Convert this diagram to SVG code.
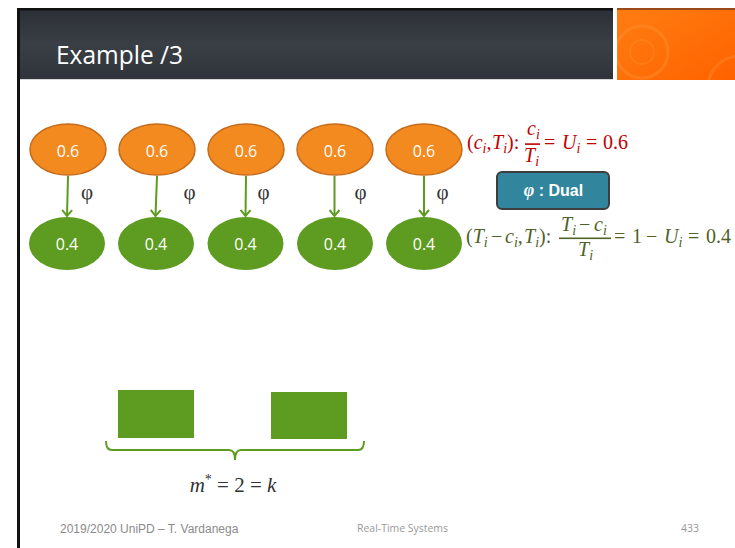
<svg xmlns="http://www.w3.org/2000/svg" width="735" height="548" viewBox="0 0 735 548">
<defs>
<linearGradient id="hdr" x1="0" y1="0" x2="0" y2="1">
<stop offset="0" stop-color="#2c3036"/>
<stop offset="0.5" stop-color="#3a3f46"/>
<stop offset="1" stop-color="#30343a"/>
</linearGradient>
<linearGradient id="org" x1="0" y1="0" x2="1" y2="1">
<stop offset="0" stop-color="#ff7d12"/>
<stop offset="1" stop-color="#ff6200"/>
</linearGradient>
<clipPath id="oclip"><rect x="617" y="10" width="118" height="70"/></clipPath>
<marker id="arr" viewBox="0 0 12 12" refX="11" refY="6" markerWidth="12" markerHeight="12" markerUnits="userSpaceOnUse" orient="auto">
<path d="M5,1 L11,6 L5,11" fill="none" stroke="#5e9b21" stroke-width="2"/>
</marker>
<style>
.top{fill:#f28a20;stroke:#c46b1c;stroke-width:1.5}
.bot{fill:#5e9b21}
.lbl{font-family:"Open Sans","DejaVu Sans",sans-serif;font-size:16px;fill:#ffffff;text-anchor:middle}
.phi{font-family:"Liberation Serif","DejaVu Serif",serif;font-size:21px;fill:#333333;text-anchor:middle}
.con{stroke:#5e9b21;stroke-width:2;fill:none}
.m{font-family:"Liberation Serif","DejaVu Serif",serif;font-size:20px}
.red{fill:#c00000}
.grn{fill:#4f6228}
.it{font-style:italic}
.sub{font-size:14px;font-style:italic}
.foot{font-family:"Liberation Sans",Arial,sans-serif;font-size:12px;fill:#8a8a8a}
.foot2{font-family:"Open Sans","DejaVu Sans",sans-serif;font-size:10.5px;fill:#999999}
</style>
</defs>
<rect width="735" height="548" fill="#ffffff"/>

<!-- header -->
<g id="header">
<rect x="20" y="10" width="593" height="69" fill="url(#hdr)"/>
<rect x="17" y="8" width="596" height="2.5" fill="#111111"/>
<rect x="617" y="8" width="118" height="2" fill="#9a4a18"/>
<rect x="617" y="10" width="118" height="70" fill="url(#org)"/>
<g clip-path="url(#oclip)" fill="none" stroke="#ff9a3a">
<circle cx="642" cy="52" r="26" stroke-opacity="0.35" stroke-width="3"/>
<circle cx="642" cy="52" r="12" stroke-opacity="0.25" stroke-width="2"/>
<circle cx="740" cy="88" r="32" stroke-opacity="0.3" stroke-width="3"/>
</g>
<rect x="20" y="79" width="593" height="1" fill="#d8d8d8"/>
<text x="56" y="64" font-family="'Open Sans','DejaVu Sans',sans-serif" font-size="26" fill="#ffffff" textLength="127" lengthAdjust="spacingAndGlyphs">Example /3</text>
</g>
<rect x="17" y="8" width="3" height="540" fill="#111111"/>

<!-- connectors -->
<g id="connectors">
<line class="con" x1="68" y1="176" x2="67" y2="216" marker-end="url(#arr)"/>
<line class="con" x1="157" y1="176" x2="155.5" y2="216" marker-end="url(#arr)"/>
<line class="con" x1="246" y1="176" x2="245.5" y2="216" marker-end="url(#arr)"/>
<line class="con" x1="334.5" y1="176" x2="334.5" y2="216" marker-end="url(#arr)"/>
<line class="con" x1="424" y1="176" x2="424" y2="216" marker-end="url(#arr)"/>
<text class="phi" x="87" y="199">φ</text>
<text class="phi" x="189.5" y="199">φ</text>
<text class="phi" x="263.5" y="199">φ</text>
<text class="phi" x="360.5" y="199">φ</text>
<text class="phi" x="442.5" y="199">φ</text>
</g>

<!-- top nodes -->
<g id="t1"><ellipse class="top" cx="68" cy="149.5" rx="38" ry="25.5"/><text class="lbl" x="68" y="157">0.6</text></g>
<g id="t2"><ellipse class="top" cx="157" cy="149.5" rx="38" ry="25.5"/><text class="lbl" x="157" y="157">0.6</text></g>
<g id="t3"><ellipse class="top" cx="246" cy="149.5" rx="38" ry="25.5"/><text class="lbl" x="246" y="157">0.6</text></g>
<g id="t4"><ellipse class="top" cx="335" cy="149.5" rx="38" ry="25.5"/><text class="lbl" x="335" y="157">0.6</text></g>
<g id="t5"><ellipse class="top" cx="424" cy="149.5" rx="38" ry="25.5"/><text class="lbl" x="424" y="157">0.6</text></g>

<!-- bottom nodes -->
<g id="b1"><ellipse class="bot" cx="67" cy="243.5" rx="38" ry="26.5"/><text class="lbl" x="67" y="250">0.4</text></g>
<g id="b2"><ellipse class="bot" cx="156" cy="243.5" rx="38" ry="26.5"/><text class="lbl" x="156" y="250">0.4</text></g>
<g id="b3"><ellipse class="bot" cx="245.5" cy="243.5" rx="38" ry="26.5"/><text class="lbl" x="245.5" y="250">0.4</text></g>
<g id="b4"><ellipse class="bot" cx="335" cy="243.5" rx="38" ry="26.5"/><text class="lbl" x="335" y="250">0.4</text></g>
<g id="b5"><ellipse class="bot" cx="424" cy="243.5" rx="38" ry="26.5"/><text class="lbl" x="424" y="250">0.4</text></g>

<!-- red formula -->
<g id="formula-top" class="m red">
<text x="467" y="149">(<tspan class="it">c</tspan><tspan class="sub" dy="4">i</tspan><tspan dy="-4">,</tspan><tspan x="492" class="it">T</tspan><tspan class="sub" dy="4">i</tspan><tspan dy="-4">):</tspan></text>
<text x="527" y="135"><tspan class="it">c</tspan><tspan class="sub" dy="4">i</tspan></text>
<rect x="525" y="143.3" width="15" height="1.6" fill="#c00000"/>
<text x="524" y="162"><tspan class="it">T</tspan><tspan class="sub" dy="4">i</tspan></text>
<text x="544" y="149">=<tspan x="562" class="it">U</tspan><tspan class="sub" dy="4">i</tspan><tspan x="586" dy="-4">=</tspan><tspan x="603">0.6</tspan></text>
</g>

<!-- dual box -->
<g id="dual">
<rect x="497" y="172" width="112" height="37" rx="5" fill="#31859c" stroke="#3d3d3d" stroke-width="2"/>
<text x="553.5" y="196" text-anchor="middle" font-family="'Liberation Sans',Arial,sans-serif" font-size="16" font-weight="bold" fill="#ffffff"><tspan font-family="'Liberation Serif','DejaVu Serif',serif" font-style="italic" font-size="18">φ</tspan> : Dual</text>
</g>

<!-- green formula -->
<g id="formula-bottom" class="m grn">
<text x="466" y="243">(<tspan class="it">T</tspan><tspan class="sub" dy="4">i</tspan><tspan x="491" dy="-4">−</tspan><tspan x="505" class="it">c</tspan><tspan class="sub" dy="4">i</tspan><tspan dy="-4">,</tspan><tspan x="524" class="it">T</tspan><tspan class="sub" dy="4">i</tspan><tspan dy="-4">):</tspan></text>
<text x="561" y="231"><tspan class="it">T</tspan><tspan class="sub" dy="4">i</tspan><tspan x="579" dy="-4">−</tspan><tspan x="594" class="it">c</tspan><tspan class="sub" dy="4">i</tspan></text>
<rect x="559" y="237.5" width="52" height="1.6" fill="#4f6228"/>
<text x="578" y="256"><tspan class="it">T</tspan><tspan class="sub" dy="4">i</tspan></text>
<text x="614" y="243">=<tspan x="632">1</tspan><tspan x="646">−</tspan><tspan x="664" class="it">U</tspan><tspan class="sub" dy="4">i</tspan><tspan x="688" dy="-4">=</tspan><tspan x="706">0.4</tspan></text>
</g>

<!-- processors -->
<g id="proc1"><rect x="118" y="390" width="76" height="48" fill="#5e9b21"/></g>
<g id="proc2"><rect x="271" y="392" width="76" height="47" fill="#5e9b21"/></g>
<g id="brace">
<path d="M106,441 Q106,450 112,450 L229,450 Q235,450 235,460 Q235,450 241,450 L358,450 Q364,450 364,441" fill="none" stroke="#5e9b21" stroke-width="2"/>
<text x="233" y="492" text-anchor="middle" font-family="'Liberation Serif','DejaVu Serif',serif" font-size="21" fill="#333333"><tspan font-style="italic">m</tspan><tspan font-size="14" dy="-8">*</tspan><tspan dy="8"> = 2 = </tspan><tspan font-style="italic">k</tspan></text>
</g>

<!-- footer -->
<g id="footer">
<text class="foot" x="60" y="533">2019/2020 UniPD – T. Vardanega</text>
<text class="foot2" x="357" y="532" textLength="91" lengthAdjust="spacingAndGlyphs">Real-Time Systems</text>
<text class="foot2" x="681" y="532">433</text>
</g>
</svg>
